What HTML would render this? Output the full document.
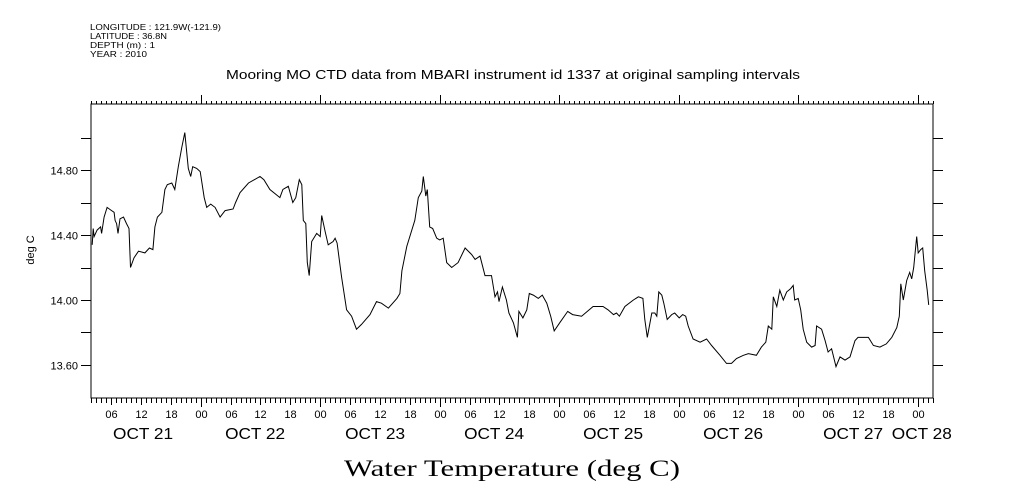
<!DOCTYPE html>
<html><head><meta charset="utf-8"><style>
body{margin:0;background:#fff;width:1009px;height:504px;overflow:hidden}
svg{display:block}
text{font-family:"Liberation Sans",sans-serif;fill:#000}
</style></head><body>
<svg id="chart" width="1009" height="504" viewBox="0 0 1009 504">
<g font-size="8.5">
<text x="90" y="30" textLength="131" lengthAdjust="spacingAndGlyphs">LONGITUDE : 121.9W(-121.9)</text>
<text x="90" y="39" textLength="77" lengthAdjust="spacingAndGlyphs">LATITUDE : 36.8N</text>
<text x="90" y="48" textLength="65" lengthAdjust="spacingAndGlyphs">DEPTH (m) : 1</text>
<text x="90" y="57" textLength="57" lengthAdjust="spacingAndGlyphs">YEAR : 2010</text>
</g>
<text x="226" y="79" font-size="12.5" textLength="574" lengthAdjust="spacingAndGlyphs">Mooring MO CTD data from MBARI instrument id 1337 at original sampling intervals</text>
<text transform="translate(34,250) rotate(-90)" font-size="11" text-anchor="middle">deg C</text>
<text x="344" y="476" font-size="23" textLength="336" lengthAdjust="spacingAndGlyphs" style="font-family:'Liberation Serif',serif">Water Temperature (deg C)</text>
<rect x="91" y="104" width="842" height="294" fill="none" stroke="#000" stroke-width="1"/>
<g id="axes"></g>
<path id="series" fill="none" stroke="#000" stroke-width="1"/>
</svg>
<script>
const hours=[2.2,2.4,2.6,3.2,3.9,4.1,4.6,5.2,6.1,6.6,6.8,7.1,7.4,7.8,8.5,9.1,9.6,9.9,10.6,11.5,12.8,13.7,14.4,14.8,15.3,16.2,16.8,17.3,18.2,18.8,19.5,20.2,20.8,21.5,22.0,22.4,23.2,23.9,24.7,25.2,26.0,26.9,27.9,28.9,30.5,31.0,31.9,33.6,35.9,36.7,37.9,39.9,40.5,41.6,42.5,43.1,43.8,44.3,44.6,45.1,45.4,45.8,46.3,47.3,48.0,48.3,49.0,49.6,50.6,51.0,51.4,52.3,53.3,54.3,55.3,56.3,58.0,59.3,60.3,61.7,63.4,64.0,64.4,65.4,67.0,67.7,68.4,68.7,69.2,69.5,70.0,70.6,71.4,72.0,72.7,73.4,74.4,75.7,77.1,78.4,79.1,80.1,81.1,82.4,83.1,83.6,83.9,84.6,85.4,85.9,86.8,87.6,87.9,88.7,89.5,90.0,90.8,91.8,92.6,93.5,94.3,95.0,96.1,97.7,98.7,100.5,102.8,104.8,105.8,106.9,107.5,108.1,109.2,110.9,111.9,112.8,113.2,113.7,114.6,115.2,115.6,116.0,116.6,117.0,117.7,118.6,119.2,120.1,120.8,121.4,121.9,122.9,124.3,125.6,126.6,128.3,129.6,130.6,131.6,133.0,134.0,135.6,136.6,137.5,138.0,138.7,139.0,139.7,140.3,141.0,141.7,142.5,143.0,143.3,144.0,144.5,145.0,145.7,146.7,147.4,147.7,148.7,149.4,150.0,150.7,151.6,152.4,153.4,154.4,155.4,156.0,157.1,158.1,159.1,160.4,161.7,162.8,163.8,164.3,164.6,165.1,165.8,166.4,166.8,167.2,167.8,168.1,168.6,169.0,169.4,169.9,170.2];
const temps=[14.34,14.44,14.39,14.43,14.45,14.41,14.51,14.57,14.55,14.54,14.49,14.47,14.41,14.50,14.51,14.47,14.44,14.20,14.26,14.30,14.29,14.32,14.31,14.45,14.51,14.54,14.68,14.71,14.72,14.68,14.82,14.94,15.03,14.81,14.76,14.82,14.81,14.79,14.63,14.57,14.59,14.57,14.51,14.55,14.56,14.60,14.66,14.72,14.76,14.74,14.68,14.63,14.68,14.70,14.60,14.63,14.74,14.71,14.49,14.47,14.23,14.15,14.36,14.41,14.39,14.52,14.42,14.34,14.36,14.38,14.35,14.14,13.94,13.90,13.82,13.85,13.91,13.99,13.98,13.95,14.01,14.04,14.18,14.33,14.49,14.63,14.67,14.76,14.64,14.68,14.45,14.44,14.38,14.37,14.38,14.23,14.20,14.23,14.32,14.28,14.25,14.27,14.15,14.15,14.02,14.05,13.99,14.08,14.00,13.92,13.86,13.77,13.93,13.89,13.94,14.04,14.03,14.01,14.03,13.98,13.90,13.81,13.86,13.93,13.91,13.90,13.96,13.96,13.94,13.91,13.92,13.90,13.96,14.00,14.02,14.01,13.88,13.77,13.92,13.92,13.90,14.05,14.03,13.98,13.88,13.91,13.92,13.89,13.91,13.90,13.84,13.76,13.74,13.76,13.72,13.66,13.61,13.61,13.64,13.66,13.67,13.66,13.71,13.74,13.84,13.82,14.02,13.96,14.06,14.00,14.05,14.07,14.09,14.00,14.01,13.94,13.82,13.74,13.71,13.72,13.84,13.82,13.75,13.68,13.70,13.59,13.65,13.63,13.65,13.75,13.77,13.77,13.77,13.72,13.71,13.73,13.77,13.83,13.90,14.10,14.00,14.12,14.17,14.13,14.20,14.39,14.29,14.31,14.32,14.18,14.06,13.97];
const yTicks=[13.6,13.8,14.0,14.2,14.4,14.6,14.8,15.0];
const yTickLabels=["13.60","","14.00","","14.40","","14.80",""];
const hourLabels=["00","06","12","18"];
const dayLabels=["OCT 21","OCT 22","OCT 23","OCT 24","OCT 25","OCT 26","OCT 27","OCT 28"];
const dayLabelStartHours=[6.4,28.9,53.0,76.9,100.8,124.9,149.0,162.8];

const X0=81.2, PXH=119.5/24, L=91, R=933, T=104, B=398;
function x(h){return X0+h*PXH;}
function y(t){return 300-(t-14)*162.5;}
const NS="http://www.w3.org/2000/svg";
const axes=document.getElementById('axes');
function mk(tag,attrs){const e=document.createElementNS(NS,tag);for(const k in attrs)e.setAttribute(k,attrs[k]);axes.appendChild(e);return e;}

let d="";
for(let i=0;i<hours.length;i++){d+=(i?"L":"M")+x(hours[i]).toFixed(1)+" "+y(temps[i]).toFixed(1);}
document.getElementById('series').setAttribute('d',d);

let tk="";
const hStart=Math.ceil((L-X0)/PXH), hEnd=Math.floor((R-X0)/PXH);
for(let h=hStart;h<=hEnd;h++){
  const px=Math.round(x(h))+0.5;
  const day=h%24===0, six=h%6===0;
  tk+="M"+px+" "+T+"V"+(T-(day?9:3));
  tk+="M"+px+" "+B+"V"+(B+(day?9:(six?7:5)));
  if(six){
    const t=mk('text',{x:px,y:418,'font-size':11,'text-anchor':'middle'});
    
    
    t.textContent=hourLabels[(h%24)/6];
  }
}
yTicks.forEach((v,i)=>{
  const py=Math.round(y(v))+0.5;
  tk+="M"+L+" "+py+"H"+(L-10)+"M"+R+" "+py+"H"+(R+10);
  if(yTickLabels[i]){
    const t=mk('text',{x:78,y:py+4,'font-size':11,'text-anchor':'end'});
    
    
    t.textContent=yTickLabels[i];
  }
});
const tp=mk('path',{d:tk,stroke:'#000','stroke-width':1,fill:'none'});


dayLabels.forEach((s,i)=>{
  const t=mk('text',{x:x(dayLabelStartHours[i]),y:439,'font-size':16,textLength:60,lengthAdjust:'spacingAndGlyphs'});
  
  
  t.textContent=s;
});
</script>
</body></html>
